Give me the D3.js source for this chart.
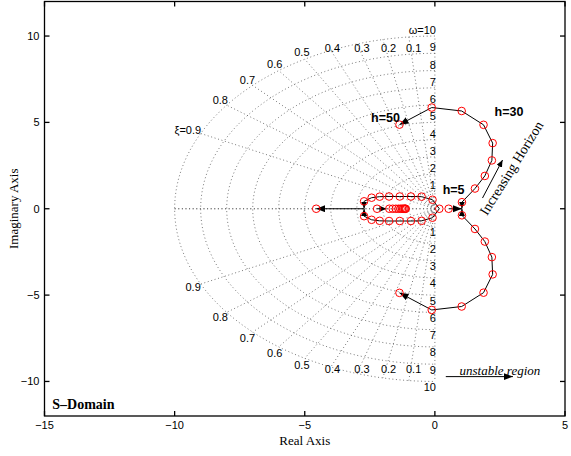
<!DOCTYPE html>
<html><head><meta charset="utf-8">
<script src="https://cdn.jsdelivr.net/npm/d3@7"></script>
<style>body{margin:0;background:#fff}svg{display:block}</style>
</head><body>
<svg id="c" width="571" height="456"></svg>
<script>
// ---- data ----
const xTicks = [-15,-10,-5,0,5];
const yTicks = [-10,-5,0,5,10];
const zetaValues = [0,0.1,0.2,0.3,0.4,0.5,0.6,0.7,0.8,0.9,1];
const zetaLabels = [0.1,0.2,0.3,0.4,0.5,0.6,0.7,0.8,0.9];
const omegaValues = [1,2,3,4,5,6,7,8,9,10];
// outer locus (upper half; lower half is the conjugate)
const outerRe = [1.04, 1.54, 1.92, 2.19, 2.22, 1.87, 1.03, -0.12, -1.36];
const outerIm = [0.38, 1.17, 1.90, 2.80, 3.80, 4.86, 5.66, 5.86, 4.87];
// inner locus (upper half; lower half is the conjugate)
const innerRe = [0.17, -0.09, -0.51, -0.92, -1.35, -1.76, -2.12, -2.43, -2.72];
const innerIm = [0.0, 0.52, 0.70, 0.71, 0.71, 0.71, 0.70, 0.64, 0.43];
// real-axis poles
const realRight = [0.53];
const realLeftEnd = [-4.56];
const realStart = [-2.22];
const clusterRe = [-1.75, -1.62, -1.5, -1.4, -1.32, -1.26, -1.21, -1.17, -1.14, -1.12];

// ---- scales ----
const svg = d3.select('#c');
const x = d3.scaleLinear().domain([-15,5]).range([44.5,565]);
const y = d3.scaleLinear().domain([-12,12]).range([416,1.5]);
const sans = 'Liberation Sans, Arial, sans-serif';
const serif = 'Liberation Serif, Times New Roman, serif';

const defs = svg.append('defs');
defs.append('marker').attr('id','ah').attr('markerUnits','userSpaceOnUse')
  .attr('markerWidth',10).attr('markerHeight',8).attr('refX',9).attr('refY',3.5)
  .attr('orient','auto').append('path').attr('d','M0,0 L9,3.5 L0,7 Z').attr('fill','#000');
defs.append('marker').attr('id','ahs').attr('markerUnits','userSpaceOnUse')
  .attr('markerWidth',8).attr('markerHeight',8).attr('refX',7).attr('refY',3)
  .attr('orient','auto').append('path').attr('d','M0,0 L7,3 L0,6 Z').attr('fill','#000');

// ---- grid ----
const grid = svg.append('g').attr('fill','none').attr('stroke','#555')
  .attr('stroke-width',0.8).attr('stroke-dasharray','1,2.6');
const line = d3.line().x(d=>x(d[0])).y(d=>y(d[1]));
omegaValues.forEach(w=>{
  const pts = d3.range(90,270.5,2).map(a=>[w*Math.cos(a*Math.PI/180), w*Math.sin(a*Math.PI/180)]);
  grid.append('path').attr('d',line(pts));
});
zetaValues.forEach(z=>{
  const s = Math.sqrt(1-z*z);
  grid.append('path').attr('d',line([[0,0],[-10*z,10*s]]));
  grid.append('path').attr('d',line([[0,0],[-10*z,-10*s]]));
});

// zeta labels
const gl = svg.append('g').attr('font-family',sans).attr('font-size',11).attr('fill','#000');
zetaLabels.forEach(z=>{
  const s = Math.sqrt(1-z*z);
  let r = 10.45;
  if (s*r > 9.28) r = 9.28/s;
  const px = x(-z*r)+3;
  [1,-1].forEach(sg=>{
    const py = y(sg*s*r);
    const isTop = sg>0 && z===0.9;
    gl.append('text').attr('x', isTop? px+8 : px).attr('y',py)
      .attr('dominant-baseline','central').attr('text-anchor', isTop?'end':'middle')
      .text(isTop ? 'ξ=' + z : String(z));
  });
});
// omega labels
omegaValues.forEach(w=>{
  gl.append('text').attr('x',x(0)+1).attr('y',y(w)-2).attr('text-anchor','end')
    .text(w===10 ? 'ω=10' : String(w));
  gl.append('text').attr('x',x(0)+1).attr('y',y(-w)+9.5).attr('text-anchor','end')
    .text(String(w));
});

// ---- loci ----
const loc = svg.append('g').attr('fill','none').attr('stroke','#000').attr('stroke-width',1);
[1,-1].forEach(sg=>{
  const outer = outerRe.map((r,i)=>[r, sg*outerIm[i]]);
  loc.append('path').attr('d',line(outer.slice(0,outer.length-1)));
  loc.append('path').attr('d',line(outer.slice(outer.length-2))).attr('marker-end','url(#ah)');
  const inner = innerRe.map((r,i)=>[r, sg*innerIm[i]]);
  loc.append('path').attr('d',line(inner));
  // hourglass arrowheads at breakaway points
  loc.append('path').attr('d',line([[outerRe[0], sg*outerIm[0]],[outerRe[0], sg*0.01]])).attr('marker-end','url(#ahs)');
  loc.append('path').attr('d',line([[innerRe[8], sg*innerIm[8]],[innerRe[8], sg*0.01]])).attr('marker-end','url(#ahs)');
});
// real-axis arrows
loc.append('path').attr('d',line([[realRight[0],0],[outerRe[0],0]])).attr('marker-end','url(#ah)');
loc.append('path').attr('d',line([[innerRe[8],0],[realLeftEnd[0],0]])).attr('marker-end','url(#ah)');
loc.append('path').attr('d',line([[realStart[0],0],[-1.86,0]])).attr('marker-end','url(#ahs)');

// markers
const pts = [];
outerRe.forEach((r,i)=>{pts.push([r,outerIm[i]]); pts.push([r,-outerIm[i]]);});
innerRe.forEach((r,i)=>{pts.push([r,innerIm[i]]); if(innerIm[i]!==0) pts.push([r,-innerIm[i]]);});
realRight.forEach(r=>pts.push([r,0]));
realLeftEnd.forEach(r=>pts.push([r,0]));
realStart.forEach(r=>pts.push([r,0]));
clusterRe.forEach(r=>pts.push([r,0]));
svg.append('g').selectAll('circle').data(pts).join('circle')
  .attr('cx',d=>x(d[0])).attr('cy',d=>y(d[1])).attr('r',3.8)
  .attr('fill','none').attr('stroke','#f00').attr('stroke-width',1);

// ---- annotations ----
const ann = svg.append('g');
ann.append('text').attr('x',x(-1.9)).attr('y',y(5.0)).attr('font-family',sans).attr('font-weight','bold')
  .attr('font-size',12.5).attr('text-anchor','middle').text('h=50');
ann.append('text').attr('x',x(2.85)).attr('y',y(5.35)).attr('font-family',sans).attr('font-weight','bold')
  .attr('font-size',12.5).attr('text-anchor','middle').text('h=30');
ann.append('text').attr('x',x(0.72)).attr('y',y(0.85)).attr('font-family',sans).attr('font-weight','bold')
  .attr('font-size',12.5).attr('text-anchor','middle').text('h=5');
ann.append('text').attr('transform',`translate(${x(2.95)},${y(2.35)}) rotate(-58)`)
  .attr('font-family',serif).attr('font-size',14).attr('text-anchor','middle').attr('dominant-baseline','central')
  .text('Increasing Horizon');
ann.append('path').attr('d',line([[1.83,0.62],[2.6,2.82]])).attr('stroke','#000').attr('stroke-width',1)
  .attr('marker-end','url(#ahs)');
ann.append('path').attr('d',line([[0.42,-9.72],[3.0,-9.72]])).attr('stroke','#000').attr('stroke-width',1)
  .attr('marker-end','url(#ah)');
ann.append('text').attr('x',x(2.5)).attr('y',y(-9.72)-2).attr('font-family',serif).attr('font-style','italic')
  .attr('font-size',13).attr('text-anchor','middle').text('unstable region');
ann.append('text').attr('x',x(-14.7)).attr('y',y(-11.6)).attr('font-family',serif).attr('font-weight','bold')
  .attr('font-size',14).text('S\u2013Domain');

// ---- axes frame ----
const ax = svg.append('g').attr('stroke','#000').attr('stroke-width',1.3);
ax.append('rect').attr('x',x(-15)).attr('y',y(12)).attr('width',x(5)-x(-15)).attr('height',y(-12)-y(12)).attr('fill','none');
xTicks.forEach(t=>{
  ax.append('line').attr('x1',x(t)).attr('x2',x(t)).attr('y1',y(-12)).attr('y2',y(-12)-5);
  ax.append('line').attr('x1',x(t)).attr('x2',x(t)).attr('y1',y(12)).attr('y2',y(12)+5);
});
yTicks.forEach(t=>{
  ax.append('line').attr('y1',y(t)).attr('y2',y(t)).attr('x1',x(-15)).attr('x2',x(-15)+5);
  ax.append('line').attr('y1',y(t)).attr('y2',y(t)).attr('x1',x(5)).attr('x2',x(5)-5);
});
const tl = svg.append('g').attr('font-family',sans).attr('font-size',11).attr('fill','#000');
const fmt = v => v<0 ? '\u2212'+Math.abs(v) : String(v);
xTicks.forEach(t=>tl.append('text').attr('x',x(t)).attr('y',y(-12)+13).attr('text-anchor','middle').text(fmt(t)));
yTicks.forEach(t=>tl.append('text').attr('x',x(-15)-5).attr('y',y(t)).attr('dominant-baseline','central').attr('text-anchor','end').text(fmt(t)));
svg.append('text').attr('x',(x(-15)+x(5))/2).attr('y',445).attr('font-family',serif).attr('font-size',13)
  .attr('text-anchor','middle').text('Real Axis');
svg.append('text').attr('transform',`translate(13,${(y(12)+y(-12))/2}) rotate(-90)`).attr('font-family',serif)
  .attr('font-size',13).attr('text-anchor','middle').attr('dominant-baseline','central').text('Imaginary Axis');
</script>
</body></html>
